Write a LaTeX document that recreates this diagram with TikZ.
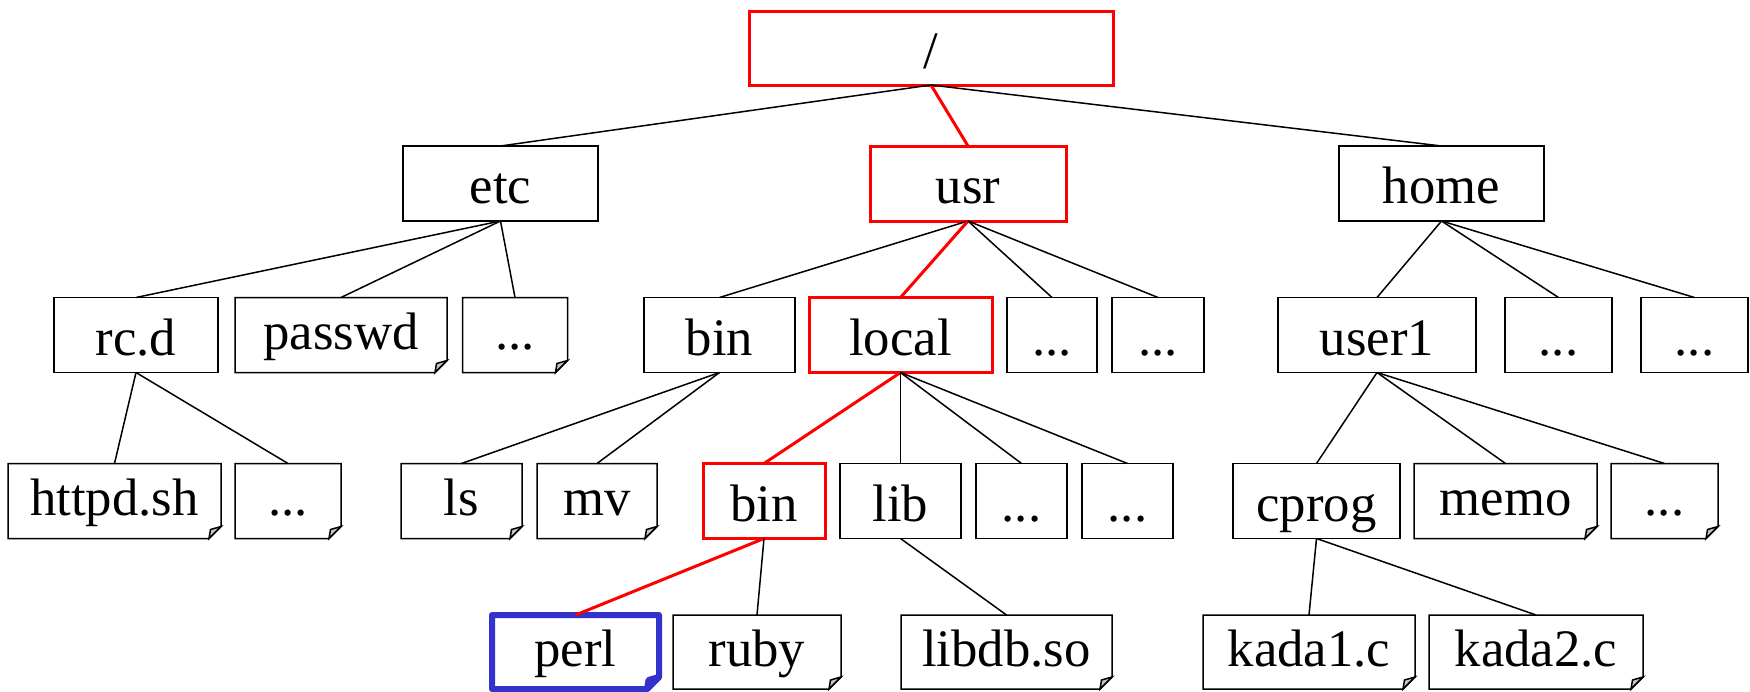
\documentclass[tikz,border=0pt]{standalone}
\usepackage{fontspec}
\setmainfont{Liberation Serif}
\usetikzlibrary{calc}

\definecolor{pathred}{RGB}{255,0,0}
\definecolor{pathblue}{RGB}{51,51,204}

\tikzset{
  dir/.style={draw, rectangle, minimum height=7.5mm, inner sep=0pt, outer sep=0pt,
    line width=0.15mm, font=\fontsize{15}{18}\selectfont,
    text height=5.16mm, text depth=1.16mm},
  hot/.style={dir, draw=pathred, line width=0.3mm},
  file/.style={dir, draw=none, text height=3.96mm},
  link/.style={line width=0.15mm},
  hotlink/.style={draw=pathred, line width=0.3mm},
  foldline/.style={line width=0.15mm},
}

% frame of a file: box with its lower right corner folded
\newcommand{\fold}[2][foldline]{%
  \draw[#1] (#2.north west) -- (#2.north east) -- ([yshift=1.2mm]#2.south east)
    -- ([xshift=-1.2mm]#2.south east) -- (#2.south west) -- cycle;
  \filldraw[#1, fill=gray!45] ([yshift=1.2mm]#2.south east) -- ([xshift=-1.2mm]#2.south east)
    -- ([xshift=-1.05mm,yshift=0.9mm]#2.south east) -- cycle;
}

\begin{document}
\begin{tikzpicture}[x=0.1mm, y=-0.1mm]
\useasboundingbox (0,0) rectangle (1750,692);

% level 0
\node[hot, minimum width=36.4mm, minimum height=7.4mm] (root) at (931,48) {/};

% level 1
\node[dir, minimum width=19.5mm] (etc) at (500.5,183.5) {etc};
\node[hot, minimum width=19.6mm] (usr) at (968,183.5) {usr};
\node[dir, minimum width=20.5mm] (home) at (1441.5,183.5) {home};

% level 2
\node[dir, minimum width=16.4mm] (rcd) at (136,335) {rc.d};
\node[file, minimum width=21.2mm] (passwd) at (341,335) {passwd};
\node[file, minimum width=10.5mm] (etcdots) at (515,335) {...};
\node[dir, minimum width=15.1mm] (ubin) at (719.5,335) {bin};
\node[hot, minimum width=18.3mm] (local) at (900.5,335) {local};
\node[dir, minimum width=9mm] (udotsa) at (1052,335) {...};
\node[dir, minimum width=9.2mm] (udotsb) at (1158,335) {...};
\node[dir, minimum width=19.8mm] (user1) at (1377,335) {user1};
\node[dir, minimum width=10.7mm] (hdotsa) at (1558.5,335) {...};
\node[dir, minimum width=10.7mm] (hdotsb) at (1694.5,335) {...};

% level 3
\node[file, minimum width=21.3mm] (httpd) at (114.5,501) {httpd.sh};
\node[file, minimum width=10.6mm] (rcdots) at (288,501) {...};
\node[file, minimum width=12.1mm] (ls) at (461.5,501) {ls};
\node[file, minimum width=12mm] (mv) at (597,501) {mv};
\node[hot, minimum width=12.2mm] (lbin) at (764,501) {bin};
\node[dir, minimum width=12.1mm] (lib) at (900.5,501) {lib};
\node[dir, minimum width=9.1mm] (ldotsa) at (1021.5,501) {...};
\node[dir, minimum width=9.1mm] (ldotsb) at (1127.5,501) {...};
\node[dir, minimum width=16.7mm] (cprog) at (1316.5,501) {cprog};
\node[file, minimum width=18.3mm] (memo) at (1505.5,501) {memo};
\node[file, minimum width=10.7mm] (cdots) at (1664.5,501) {...};

% level 4
\node[file, minimum width=16.7mm, minimum height=7.4mm] (perl) at (575.5,652) {perl};
\node[file, minimum width=16.8mm, minimum height=7.4mm] (ruby) at (757,652) {ruby};
\node[file, minimum width=21.1mm, minimum height=7.4mm] (libdb) at (1006.5,652) {libdb.so};
\node[file, minimum width=21.2mm, minimum height=7.4mm] (kada1) at (1309,652) {kada1.c};
\node[file, minimum width=21.4mm, minimum height=7.4mm] (kada2) at (1536,652) {kada2.c};

% file frames
\fold{passwd}
\fold{etcdots}
\fold{httpd}
\fold{rcdots}
\fold{ls}
\fold{mv}
\fold{memo}
\fold{cdots}
\fold{ruby}
\fold{libdb}
\fold{kada1}
\fold{kada2}
\fold[draw=pathblue, line width=0.6mm, line join=round]{perl}

% edges
\draw[link] (root.south) -- (etc.north);
\draw[hotlink] (root.south) -- (usr.north);
\draw[link] (root.south) -- (home.north);

\draw[link] (etc.south) -- (rcd.north);
\draw[link] (etc.south) -- (passwd.north);
\draw[link] (etc.south) -- (etcdots.north);

\draw[link] (usr.south) -- (ubin.north);
\draw[hotlink] (usr.south) -- (local.north);
\draw[link] (usr.south) -- (udotsa.north);
\draw[link] (usr.south) -- (udotsb.north);

\draw[link] (home.south) -- (user1.north);
\draw[link] (home.south) -- (hdotsa.north);
\draw[link] (home.south) -- (hdotsb.north);

\draw[link] (rcd.south) -- (httpd.north);
\draw[link] (rcd.south) -- (rcdots.north);

\draw[link] (ubin.south) -- (ls.north);
\draw[link] (ubin.south) -- (mv.north);

\draw[hotlink] (local.south) -- (lbin.north);
\draw[link] (local.south) -- (lib.north);
\draw[link] (local.south) -- (ldotsa.north);
\draw[link] (local.south) -- (ldotsb.north);

\draw[link] (user1.south) -- (cprog.north);
\draw[link] (user1.south) -- (memo.north);
\draw[link] (user1.south) -- (cdots.north);

\draw[hotlink] (lbin.south) -- (perl.north);
\draw[link] (lbin.south) -- (ruby.north);

\draw[link] (lib.south) -- (libdb.north);

\draw[link] (cprog.south) -- (kada1.north);
\draw[link] (cprog.south) -- (kada2.north);

\end{tikzpicture}
\end{document}
